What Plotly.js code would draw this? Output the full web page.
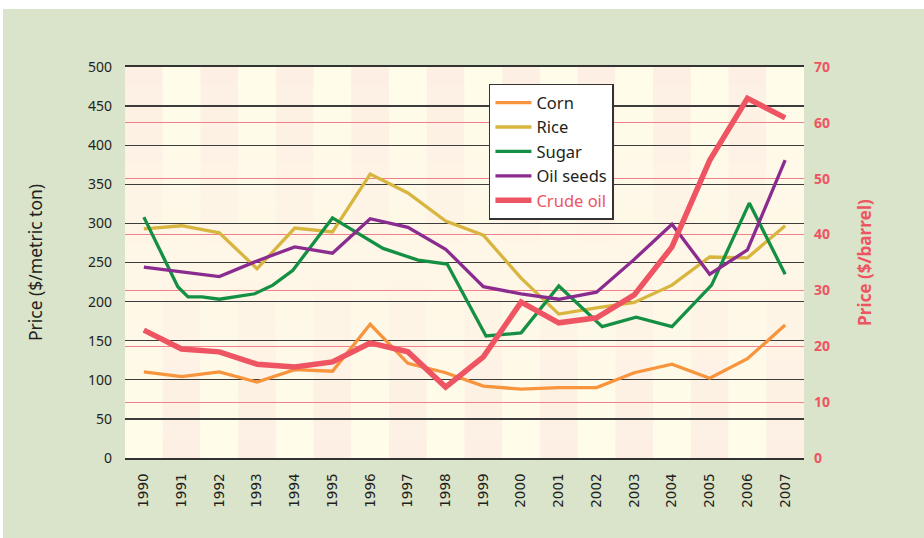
<!DOCTYPE html>
<html>
<head>
<meta charset="utf-8">
<script src="https://cdn.plot.ly/plotly-3.0.1.min.js"></script>
<style>
  html, body { margin: 0; padding: 0; background: #ffffff; }
  #chart { position: absolute; left: 3px; top: 9px; width: 921px; height: 529px; }
</style>
</head>
<body>
<div id="chart"></div>
<script>
// ---- data ----
const years = [1990,1991,1992,1993,1994,1995,1996,1997,1998,1999,2000,2001,2002,2003,2004,2005,2006,2007];
const yearLabels = years.map(String);
const corn     = [110,104,110,97,113,111,171,121,109,92,88,90,90,109,120,102,127,170];
const rice     = [293,297,288,242,294,289,363,339,303,285,230,184,192,199,221,257,256,297];
const oilSeeds = [244,238,232,252,270,262,306,295,267,219,210,203,212,254,299,235,266,381];
const crudeOil = [22.9,19.5,19.0,16.8,16.3,17.2,20.6,19.0,12.7,18.1,27.9,24.2,25.1,29.2,37.8,53.3,64.4,60.9];
// sugar is drawn with more vertices than one per year
const sugarX = [1990,1990.9,1991.17,1991.54,1992,1992.47,1992.94,1993.42,1993.95,1995,1996.34,1997.27,1998.04,1999.07,2000,2001,2002.15,2003.05,2004,2005.05,2006.05,2007];
const sugar  = [308,219,206,206,203,207,210,221,240,307,268,253,248,156,160,220,168,180,168,221,326,235];

const seriesNames = ['Corn','Rice','Sugar','Oil seeds','Crude oil'];
const seriesColors = ['#F7943C','#D8B53E','#139043','#8A2B90','#EE5461'];

// ---- background stripes (vertical gradient per column) ----
function mix(c1, c2, t) {
  const a = [parseInt(c1.slice(1,3),16),parseInt(c1.slice(3,5),16),parseInt(c1.slice(5,7),16)];
  const b = [parseInt(c2.slice(1,3),16),parseInt(c2.slice(3,5),16),parseInt(c2.slice(5,7),16)];
  return 'rgb(' + a.map((v,i)=>Math.round(v+(b[i]-v)*t)).join(',') + ')';
}
const pink = '#FDEFE3', yellow = '#FFFDEA';
const shapes = [];
const nBands = 20;
years.forEach((yr, i) => {
  for (let k = 0; k < nBands; k++) {
    const t = (k + 0.5) / nBands; // 0 bottom -> 1 top
    const top = (i % 2 === 0) ? pink : yellow;
    const bot = (i % 2 === 0) ? yellow : pink;
    shapes.push({
      type: 'rect', xref: 'x', yref: 'y', layer: 'below',
      x0: yr - 0.5, x1: yr + 0.5, y0: 500 * k / nBands, y1: 500 * (k + 1) / nBands,
      fillcolor: mix(bot, top, t), line: { width: 0 }
    });
  }
});

const traces = [
  { x: years, y: corn, name: seriesNames[0], type: 'scatter', mode: 'lines', line: { color: seriesColors[0], width: 3.3 } },
  { x: years, y: rice, name: seriesNames[1], type: 'scatter', mode: 'lines', line: { color: seriesColors[1], width: 3.3 } },
  { x: sugarX, y: sugar, name: seriesNames[2], type: 'scatter', mode: 'lines', line: { color: seriesColors[2], width: 3.3 } },
  { x: years, y: oilSeeds, name: seriesNames[3], type: 'scatter', mode: 'lines', line: { color: seriesColors[3], width: 3.3 } },
  { x: years, y: crudeOil, name: '<span style="color:#EE5461">' + seriesNames[4] + '</span>', type: 'scatter', mode: 'lines', yaxis: 'y2', line: { color: seriesColors[4], width: 5.5 } }
];

const layout = {
  width: 921, height: 529,
  paper_bgcolor: '#DAE4CB',
  plot_bgcolor: '#FFFBEB',
  margin: { l: 122, r: 120, t: 58, b: 80 },
  font: { family: 'Noto Sans, Open Sans, sans-serif', color: '#231F20' },
  showlegend: true,
  legend: {
    x: 0.536, y: 0.957, xanchor: 'left', yanchor: 'top',
    bgcolor: '#ffffff', bordercolor: '#333333', borderwidth: 1.5,
    font: { size: 16.5, color: '#231F20', family: 'Noto Sans, Open Sans, sans-serif' },
    itemwidth: 36,
    tracegroupgap: 0
  },
  xaxis: {
    type: 'linear', range: [1989.5, 2007.5],
    tickmode: 'array', tickvals: years, ticktext: yearLabels,
    tickangle: -90, ticks: '', ticklabelstandoff: 8,
    tickfont: { family: 'DejaVu Sans, sans-serif', size: 13.5, color: '#231F20' },
    showgrid: false, zeroline: false,
    showline: true, mirror: true, linecolor: '#333333', linewidth: 2
  },
  yaxis: {
    range: [0, 500], dtick: 50, tick0: 0,
    showgrid: true, gridcolor: '#3C3C3C', gridwidth: 1.3,
    zeroline: false, showline: false, ticks: '', ticklabelstandoff: 12,
    tickfont: { size: 14, color: '#231F20' },
    title: { text: 'Price ($/metric ton)', font: { size: 17.5, color: '#231F20' }, standoff: 40 }
  },
  yaxis2: {
    range: [0, 70], dtick: 10, tick0: 0, overlaying: 'y', side: 'right',
    showgrid: true, gridcolor: '#F2808A', gridwidth: 1,
    zeroline: false, showline: false, ticks: '', ticklabelstandoff: 9,
    tickfont: { size: 14, color: '#EE5461', family: 'Open Sans, sans-serif', weight: 'bold' },
    title: { text: '<b>Price ($/barrel)</b>', font: { size: 17, color: '#EE5461', family: 'Open Sans, sans-serif' }, standoff: 30 }
  },
  shapes: shapes
};

Plotly.newPlot('chart', traces, layout, { displayModeBar: false, staticPlot: true });
</script>
</body>
</html>
